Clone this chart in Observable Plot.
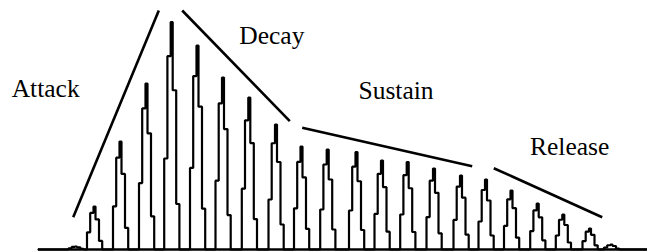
<!DOCTYPE html>
<html>
<head>
<meta charset="utf-8">
<script src="https://cdn.jsdelivr.net/npm/d3@7"></script>
<script src="https://cdn.jsdelivr.net/npm/@observablehq/plot@0.6"></script>
<style>
  html, body { margin: 0; padding: 0; background: #fff; }
  #chart svg { display: block; }
</style>
</head>
<body>
<div id="chart"></div>
<script>
// Pulse peak times (sample units) and peak levels
const peakTimes  = [75, 93.5, 119.5, 145.5, 170.7, 196.5, 222, 248.3, 275, 300.5, 326.7, 355.5, 381, 406.7, 433, 460, 485, 510.5, 536.7, 562.3, 589, 610.5];
const peakLevels = [3, 43, 108, 166, 227.5, 204, 172, 152, 125, 103, 100, 97.5, 89, 87.5, 81, 74, 70, 59, 46, 35, 21, 5];

// Shape of one sampled pulse: sample offset from the peak and fraction of the peak level
const pulseOffsets   = [-7, -3.8, -0.5, 1.5, 5, 8.2];
const pulseFractions = [0.4, 0.85, 1.0, 0.7, 0.2, 0];

// Time span of the signal baseline
const signalStart = 38;
const signalEnd = 647;

// Envelope segments (stage, start time, start level, end time, end level)
const stages = ["Attack", "Decay", "Sustain", "Release"];
const envT1  = [72.7, 181.7, 301.7, 493.3];
const envL1  = [32.3, 239, 121.7, 81.3];
const envT2  = [158.3, 289.3, 471.7, 601.7];
const envL2  = [239, 128.3, 83.3, 32.3];

// Stage labels: anchor time and level
const labelT = [11.2, 238.8, 358, 529.5];
const labelL = [152.3, 205.7, 150.7, 94.7];

// Build the sampled waveform
const wave = [{t: signalStart, v: 0}];
peakTimes.forEach((t, i) => {
  pulseOffsets.forEach((o, j) => wave.push({t: t + o, v: peakLevels[i] * pulseFractions[j]}));
});
wave.push({t: signalEnd, v: 0});

const envelope = stages.map((s, i) => ({stage: s, t1: envT1[i], l1: envL1[i], t2: envT2[i], l2: envL2[i]}));
const labels = stages.map((s, i) => ({stage: s, t: labelT[i], l: labelL[i]}));

const chart = Plot.plot({
  width: 647,
  height: 252,
  marginTop: 0,
  marginRight: 0,
  marginBottom: 3,
  marginLeft: 0,
  style: {background: "#fff"},
  x: {domain: [0, 647], axis: null},
  y: {domain: [0, 249], axis: null},
  marks: [
    Plot.ruleY([0], {x1: signalStart, x2: signalEnd, stroke: "#000", strokeWidth: 2.6}),
    Plot.line(wave, {x: "t", y: "v", curve: "step-after", stroke: "#000", strokeWidth: 2.2, strokeLinejoin: "miter"}),
    Plot.link(envelope, {x1: "t1", y1: "l1", x2: "t2", y2: "l2", stroke: "#000", strokeWidth: 2.6}),
    Plot.text(labels, {
      x: "t", y: "l", text: "stage",
      textAnchor: "start", lineAnchor: "bottom",
      fontFamily: "Liberation Serif", fontSize: 25.5, fill: "#000"
    })
  ]
});
chart.querySelectorAll("text").forEach(el => el.setAttribute("font-family", "Liberation Serif"));
document.getElementById("chart").append(chart);
</script>
</body>
</html>
